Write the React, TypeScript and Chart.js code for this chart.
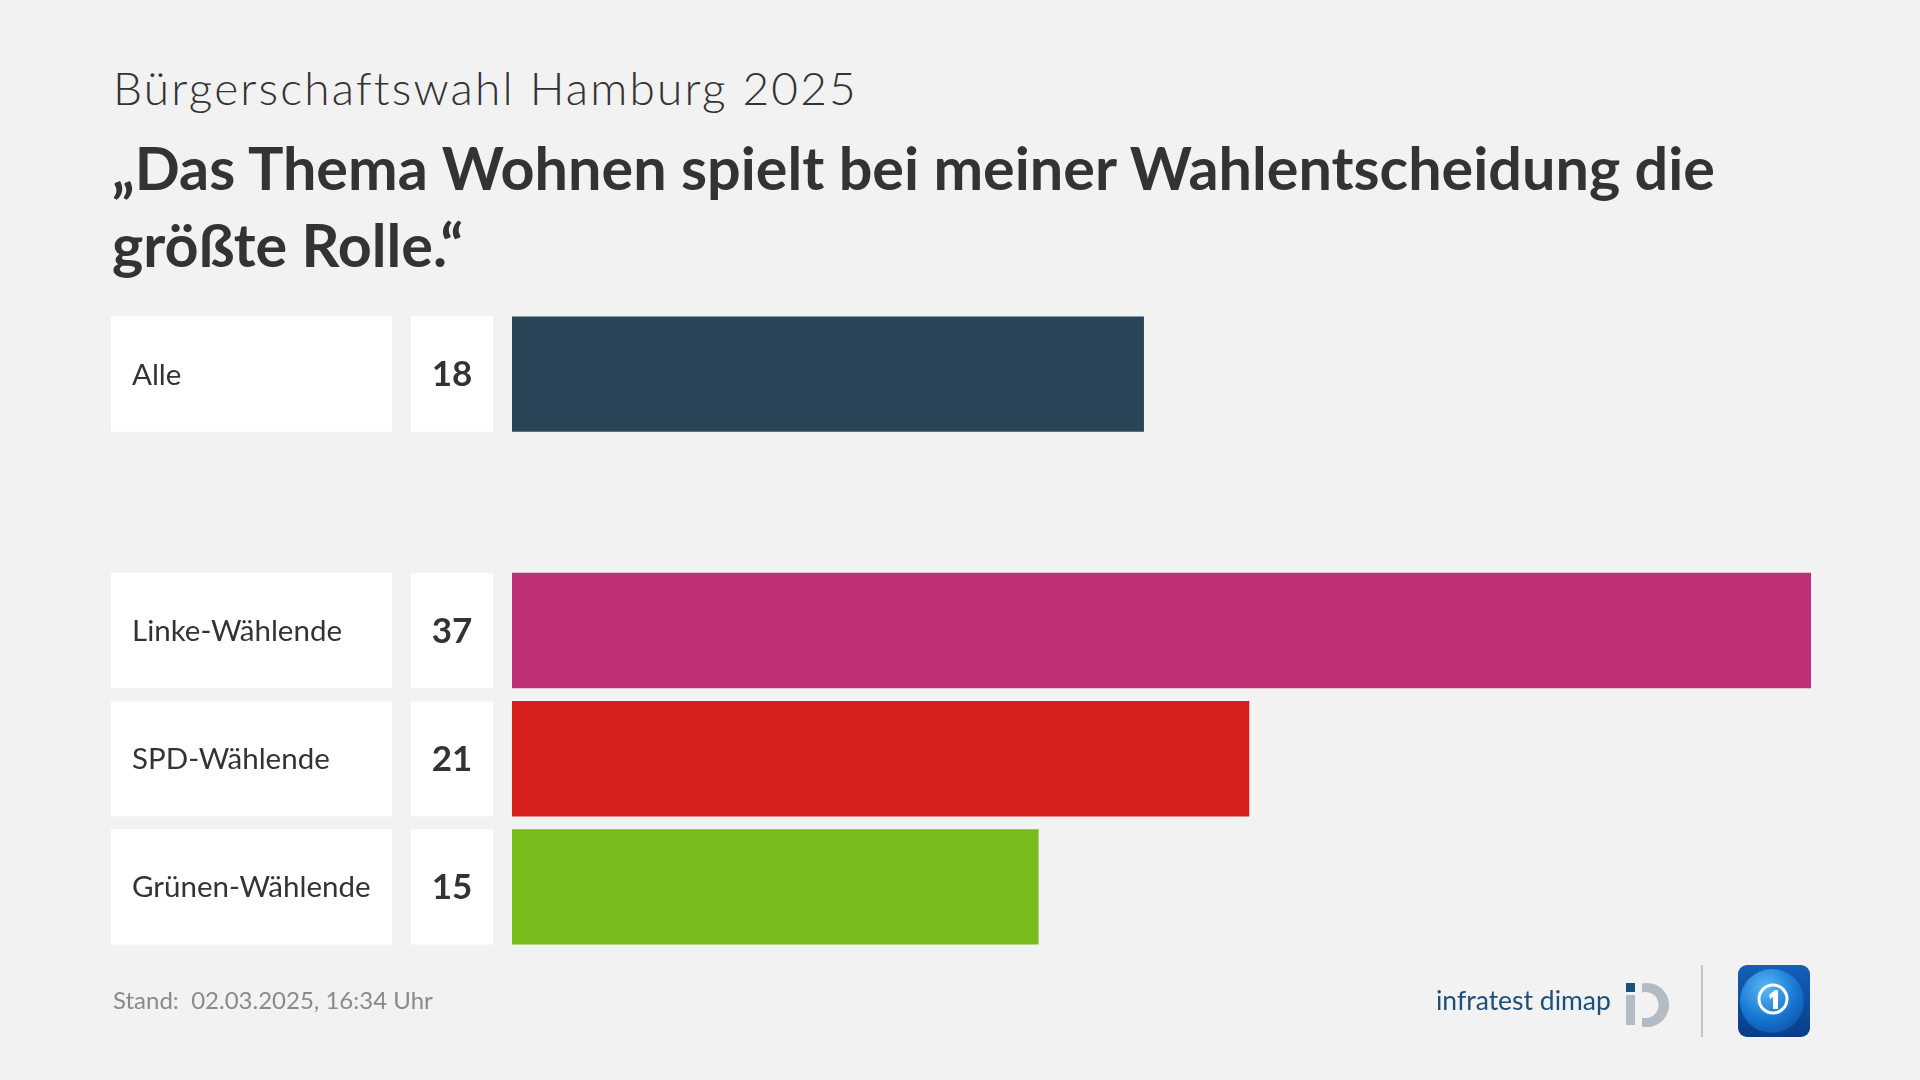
import React, { useEffect, useRef } from "react";
import { Chart, registerables } from "chart.js";

Chart.register(...registerables);

const categories = ["Alle", "", "Linke-Wählende", "SPD-Wählende", "Grünen-Wählende"];
const values: (number | null)[] = [18, null, 37, 21, 15];
const barColors = ["#2a4558", "rgba(0,0,0,0)", "#be3075", "#d71f1d", "#78bc1b"];
const axisMax = 37;

const FONT = "Lato";

export default function App() {
  const canvasRef = useRef<HTMLCanvasElement | null>(null);

  useEffect(() => {
    document.body.style.margin = "0";
    const canvas = canvasRef.current!;
    const boxesPlugin = {
      id: "boxes",
      afterDatasetsDraw(chart: any) {
        const ctx = chart.ctx as CanvasRenderingContext2D;
        const meta = chart.getDatasetMeta(0);
        meta.data.forEach((bar: any, i: number) => {
          if (values[i] == null) return;
          const { y, height } = bar.getProps(["y", "height"], true);
          const top = y - height / 2;
          ctx.save();
          ctx.fillStyle = "#ffffff";
          ctx.fillRect(111, top, 281, height);
          ctx.fillRect(411, top, 82, height);
          ctx.fillStyle = "#333333";
          ctx.textBaseline = "middle";
          ctx.textAlign = "left";
          ctx.font = `29.5px ${FONT}`;
          ctx.fillText(categories[i], 132, y + 1);
          ctx.textAlign = "center";
          ctx.font = `bold 35px ${FONT}`;
          ctx.fillText(String(values[i]), 452, y + 1);
          ctx.restore();
        });
      },
    };
    const chart = new Chart(canvas, {
      type: "bar",
      data: {
        labels: categories,
        datasets: [
          {
            data: values as any,
            backgroundColor: barColors,
            borderWidth: 0,
            barPercentage: 0.9,
            categoryPercentage: 1.0,
          },
        ],
      },
      options: {
        indexAxis: "y",
        animation: false,
        responsive: false,
        devicePixelRatio: 1,
        layout: { padding: { left: 512, right: 109, top: 310, bottom: 129 } },
        scales: {
          x: { display: false, min: 0, max: axisMax },
          y: { display: false },
        },
        plugins: { legend: { display: false }, tooltip: { enabled: false } },
      },
      plugins: [boxesPlugin],
    });
    return () => chart.destroy();
  }, []);

  return (
    <div style={{ position: "absolute", left: 0, top: 0, width: 1920, height: 1080, background: "#f2f2f2", overflow: "hidden", fontFamily: FONT }}>
      <div style={{ position: "absolute", left: 113, top: 60, fontSize: 46, lineHeight: "55px", fontWeight: 300, letterSpacing: "2.2px", color: "#333", whiteSpace: "nowrap" }}>
        Bürgerschaftswahl Hamburg 2025
      </div>
      <div style={{ position: "absolute", left: 112, top: 129, width: 1760, fontSize: 59.3, lineHeight: "77px", fontWeight: 700, color: "#333", whiteSpace: "nowrap" }}>
        „Das Thema Wohnen spielt bei meiner Wahlentscheidung die<br />größte Rolle.“
      </div>
      <canvas ref={canvasRef} width={1920} height={1080} style={{ position: "absolute", left: 0, top: 0, width: 1920, height: 1080 }} />
      <div style={{ position: "absolute", left: 113, top: 985, fontSize: 24, lineHeight: "30px", color: "#8a8a8a", whiteSpace: "pre" }}>
        Stand:  02.03.2025, 16:34 Uhr
      </div>
      <div style={{ position: "absolute", left: 1436, top: 984, fontSize: 26.5, lineHeight: "32px", color: "#1d4f7c", whiteSpace: "nowrap" }}>
        infratest dimap
      </div>
      <svg style={{ position: "absolute", left: 1622, top: 980 }} width={50} height={50} viewBox="0 0 50 50">
        <rect x={4} y={3} width={9} height={9} fill="#1d4f7c" />
        <rect x={4} y={15} width={9} height={30} fill="#b3bcc4" />
        <path d="M 20 3.6 A 22 22 0 1 1 20 46.4 L 20 37.5 A 13 13 0 1 0 20 12.5 Z" fill="#b3bcc4" />
      </svg>
      <div style={{ position: "absolute", left: 1701, top: 965, width: 2, height: 72, background: "#c4c4c4" }} />
      <svg style={{ position: "absolute", left: 1738, top: 965 }} width={72} height={72} viewBox="0 0 72 72">
        <defs>
          <linearGradient id="bgG" x1="0" y1="0" x2="0" y2="1">
            <stop offset="0" stopColor="#1460b8" />
            <stop offset="1" stopColor="#0a3c86" />
          </linearGradient>
          <radialGradient id="glG" cx="0.4" cy="0.3" r="0.8">
            <stop offset="0" stopColor="#5ab8f5" />
            <stop offset="0.6" stopColor="#1677d4" />
            <stop offset="1" stopColor="#0b4fa3" />
          </radialGradient>
          <clipPath id="rc">
            <rect x={0} y={0} width={72} height={72} rx={9} />
          </clipPath>
        </defs>
        <rect x={0} y={0} width={72} height={72} rx={9} fill="url(#bgG)" />
        <g clipPath="url(#rc)">
          <circle cx={34} cy={36} r={32} fill="url(#glG)" />
        </g>
        <circle cx={35} cy={34} r={14} fill="none" stroke="#ffffff" strokeWidth={3} />
        <path d="M 31 30 L 37 25 L 40 25 L 40 44 L 35 44 L 35 32 L 32 34 Z" fill="#ffffff" />
      </svg>
    </div>
  );
}
